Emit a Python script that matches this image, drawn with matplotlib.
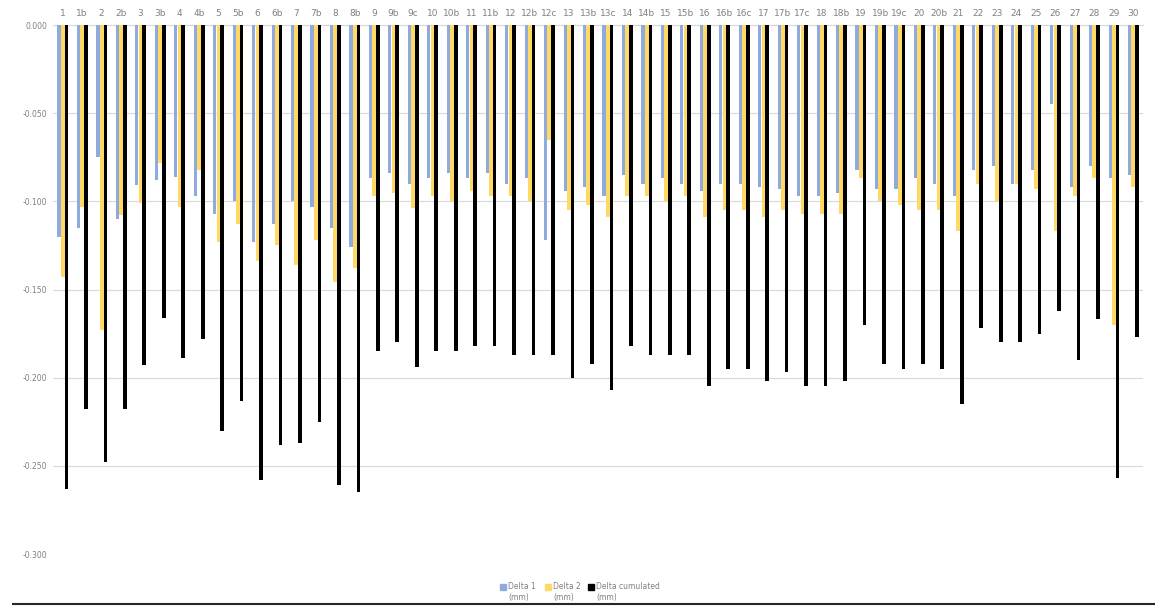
import numpy as np
import matplotlib
matplotlib.use("Agg")
import matplotlib.pyplot as plt
from matplotlib.lines import Line2D

labels = ["1", "1b", "2", "2b", "3", "3b", "4", "4b", "5", "5b", "6", "6b", "7", "7b",
          "8", "8b", "9", "9b", "9c", "10", "10b", "11", "11b", "12", "12b", "12c",
          "13", "13b", "13c", "14", "14b", "15", "15b", "16", "16b", "16c", "17", "17b",
          "17c", "18", "18b", "19", "19b", "19c", "20", "20b", "21", "22", "23", "24",
          "25", "26", "27", "28", "29", "30"]

delta1 = [-0.120, -0.115, -0.075, -0.110, -0.091, -0.088, -0.086, -0.097, -0.107, -0.100,
          -0.123, -0.113, -0.100, -0.103, -0.115, -0.126, -0.087, -0.084, -0.090, -0.087,
          -0.084, -0.087, -0.084, -0.090, -0.087, -0.122, -0.094, -0.092, -0.097, -0.085,
          -0.090, -0.087, -0.090, -0.094, -0.090, -0.090, -0.092, -0.093, -0.097, -0.097,
          -0.095, -0.082, -0.093, -0.093, -0.087, -0.090, -0.097, -0.082, -0.080, -0.090,
          -0.082, -0.045, -0.092, -0.080, -0.087, -0.085]

delta2 = [-0.143, -0.103, -0.173, -0.108, -0.101, -0.078, -0.103, -0.082, -0.123, -0.113,
          -0.134, -0.125, -0.136, -0.122, -0.146, -0.138, -0.097, -0.095, -0.104, -0.097,
          -0.100, -0.094, -0.097, -0.097, -0.100, -0.065, -0.105, -0.102, -0.109, -0.097,
          -0.097, -0.100, -0.097, -0.109, -0.105, -0.105, -0.109, -0.105, -0.107, -0.107,
          -0.107, -0.087, -0.100, -0.102, -0.105, -0.105, -0.117, -0.090, -0.100, -0.090,
          -0.093, -0.117, -0.097, -0.087, -0.170, -0.092]

delta_cum = [-0.263, -0.218, -0.248, -0.218, -0.193, -0.166, -0.189, -0.178, -0.230, -0.213,
             -0.258, -0.238, -0.237, -0.225, -0.261, -0.265, -0.185, -0.180, -0.194, -0.185,
             -0.185, -0.182, -0.182, -0.187, -0.187, -0.187, -0.200, -0.192, -0.207, -0.182,
             -0.187, -0.187, -0.187, -0.205, -0.195, -0.195, -0.202, -0.197, -0.205, -0.205,
             -0.202, -0.170, -0.192, -0.195, -0.192, -0.195, -0.215, -0.172, -0.180, -0.180,
             -0.175, -0.162, -0.190, -0.167, -0.257, -0.177]

series_names = ["Delta 1\n(mm)", "Delta 2\n(mm)", "Delta cumulated\n(mm)"]

c_blue = "#8FAADC"
c_yellow = "#FFD966"
c_black = "#000000"
grey = "#808080"

fig = plt.figure(figsize=(11.55, 6.06), dpi=100)
ax = fig.add_axes([53 / 1155, 1 - 554 / 606, 1090 / 1155, 529 / 606])

x = np.arange(len(labels))
w = 0.19
ax.bar(x - w, delta1, w * 0.85, color=c_blue, zorder=3)
ax.bar(x, delta2, w, color=c_yellow, zorder=3)
ax.bar(x + w, delta_cum, w, color=c_black, zorder=3)

ax.set_xlim(-0.5, len(labels) - 0.5)
ax.set_ylim(-0.300, 0.0)
yt = np.arange(-0.300, 0.001, 0.050)
ax.set_yticks(yt)
ax.set_yticklabels(["0.000" if abs(v) < 1e-9 else "%.3f" % v for v in yt])
ax.yaxis.grid(True, color="#D9D9D9", linewidth=0.8, zorder=0)

ax.xaxis.tick_top()
ax.set_xticks(x)
ax.set_xticklabels(labels)
ax.tick_params(axis="x", length=0, pad=5, labelsize=6.5, labelcolor=grey)
ax.tick_params(axis="y", length=0, pad=4, labelsize=5.5, labelcolor=grey)

for s in ["left", "right", "bottom"]:
    ax.spines[s].set_visible(False)
ax.spines["top"].set_color("#D9D9D9")
ax.spines["top"].set_linewidth(0.8)

# legend drawn by hand so the squares sit on the first text line
leg_x = [503, 548, 591]
for lx, name, c in zip(leg_x, series_names, (c_blue, c_yellow, c_black)):
    fig.add_artist(Line2D([lx / 1155], [1 - 587 / 606], marker="s", markersize=4,
                          color=c, linestyle="none"))
    fig.text((lx + 5) / 1155, 1 - 582 / 606, name, fontsize=5.5, color=grey,
             va="top", ha="left", linespacing=1.3)

fig.add_artist(Line2D([13 / 1155, 1.0], [1 - 604 / 606, 1 - 604 / 606],
                      color="#262626", linewidth=1.5))

fig.savefig("out.png", dpi=100)
